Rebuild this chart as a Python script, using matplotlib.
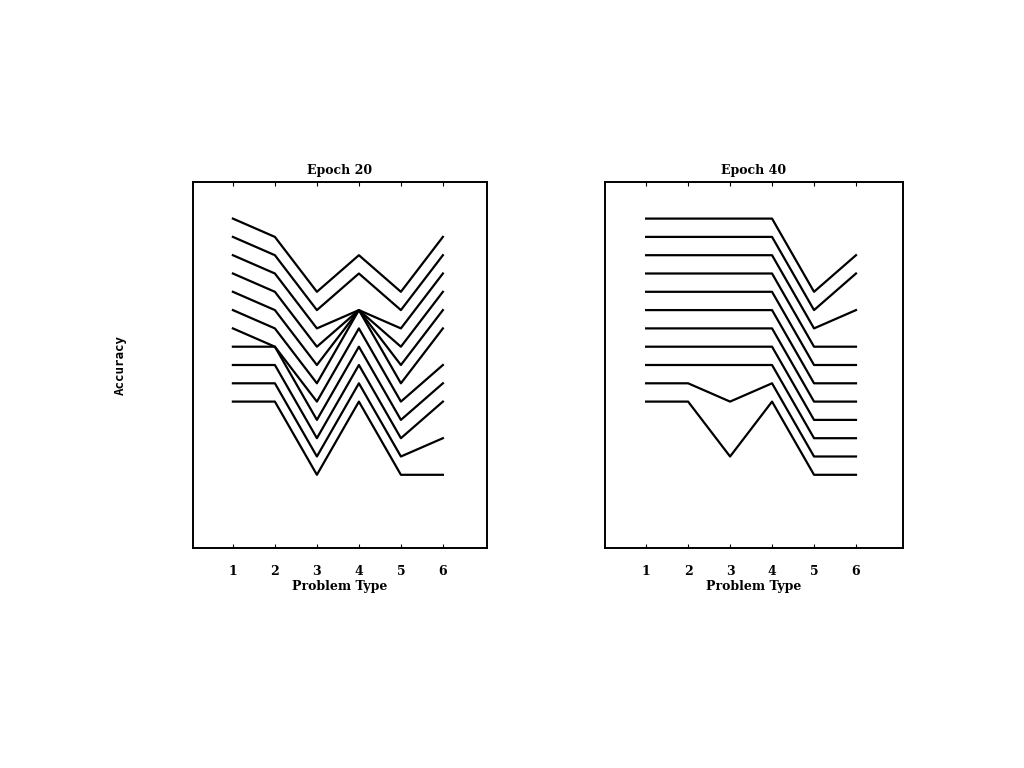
import numpy as np
import matplotlib
matplotlib.use("Agg")
import matplotlib.pyplot as plt

problem_types = [1, 2, 3, 4, 5, 6]

# accuracy levels (arbitrary units), top curve first
epoch20 = [
    [14, 13, 10, 12, 10, 13],
    [13, 12, 9, 11, 9, 12],
    [12, 11, 8, 9, 8, 11],
    [11, 10, 7, 9, 7, 10],
    [10, 9, 6, 9, 6, 9],
    [9, 8, 5, 9, 5, 8],
    [8, 7, 4, 8, 4, 6],
    [7, 7, 3, 7, 3, 5],
    [6, 6, 2, 6, 2, 4],
    [5, 5, 1, 5, 1, 2],
    [4, 4, 0, 4, 0, 0],
]
epoch40 = [
    [14, 14, 14, 14, 10, 12],
    [13, 13, 13, 13, 9, 11],
    [12, 12, 12, 12, 8, 9],
    [11, 11, 11, 11, 7, 7],
    [10, 10, 10, 10, 6, 6],
    [9, 9, 9, 9, 5, 5],
    [8, 8, 8, 8, 4, 4],
    [7, 7, 7, 7, 3, 3],
    [6, 6, 6, 6, 2, 2],
    [5, 5, 4, 5, 1, 1],
    [4, 4, 1, 4, 0, 0],
]

fig = plt.figure(figsize=(10.24, 7.68), dpi=100)
font = dict(family="DejaVu Serif", weight="bold", size=9)

ax1 = fig.add_axes([193/1024, 220/768, 294/1024, 366/768])
ax2 = fig.add_axes([605/1024, 220/768, 298/1024, 366/768])

for ax, data, title, xl in [(ax1, epoch20, "Epoch 20", (0.05, 7.05)),
                            (ax2, epoch40, "Epoch 40", (0.02, 7.12))]:
    for row in data:
        ax.plot(problem_types, row, color="black", lw=1.6)
    ax.set_xlim(*xl)
    ax.set_ylim(-4, 16)
    ax.set_yticks([])
    ax.set_xticks(problem_types)
    ax.set_xticklabels([str(p) for p in problem_types], fontdict=font)
    ax.tick_params(axis="x", direction="in", top=True, length=3, pad=12)
    ax.set_title(title, fontdict=font, pad=6)
    ax.set_xlabel("Problem Type", fontdict=font, labelpad=2)
    for s in ax.spines.values():
        s.set_linewidth(1.4)

fig.text(120/1024, 1 - 365/768, "Accuracy", rotation=90, ha="center", va="center",
         family="DejaVu Sans Mono", weight="bold", fontsize=9)

fig.savefig("out.png", dpi=100)
